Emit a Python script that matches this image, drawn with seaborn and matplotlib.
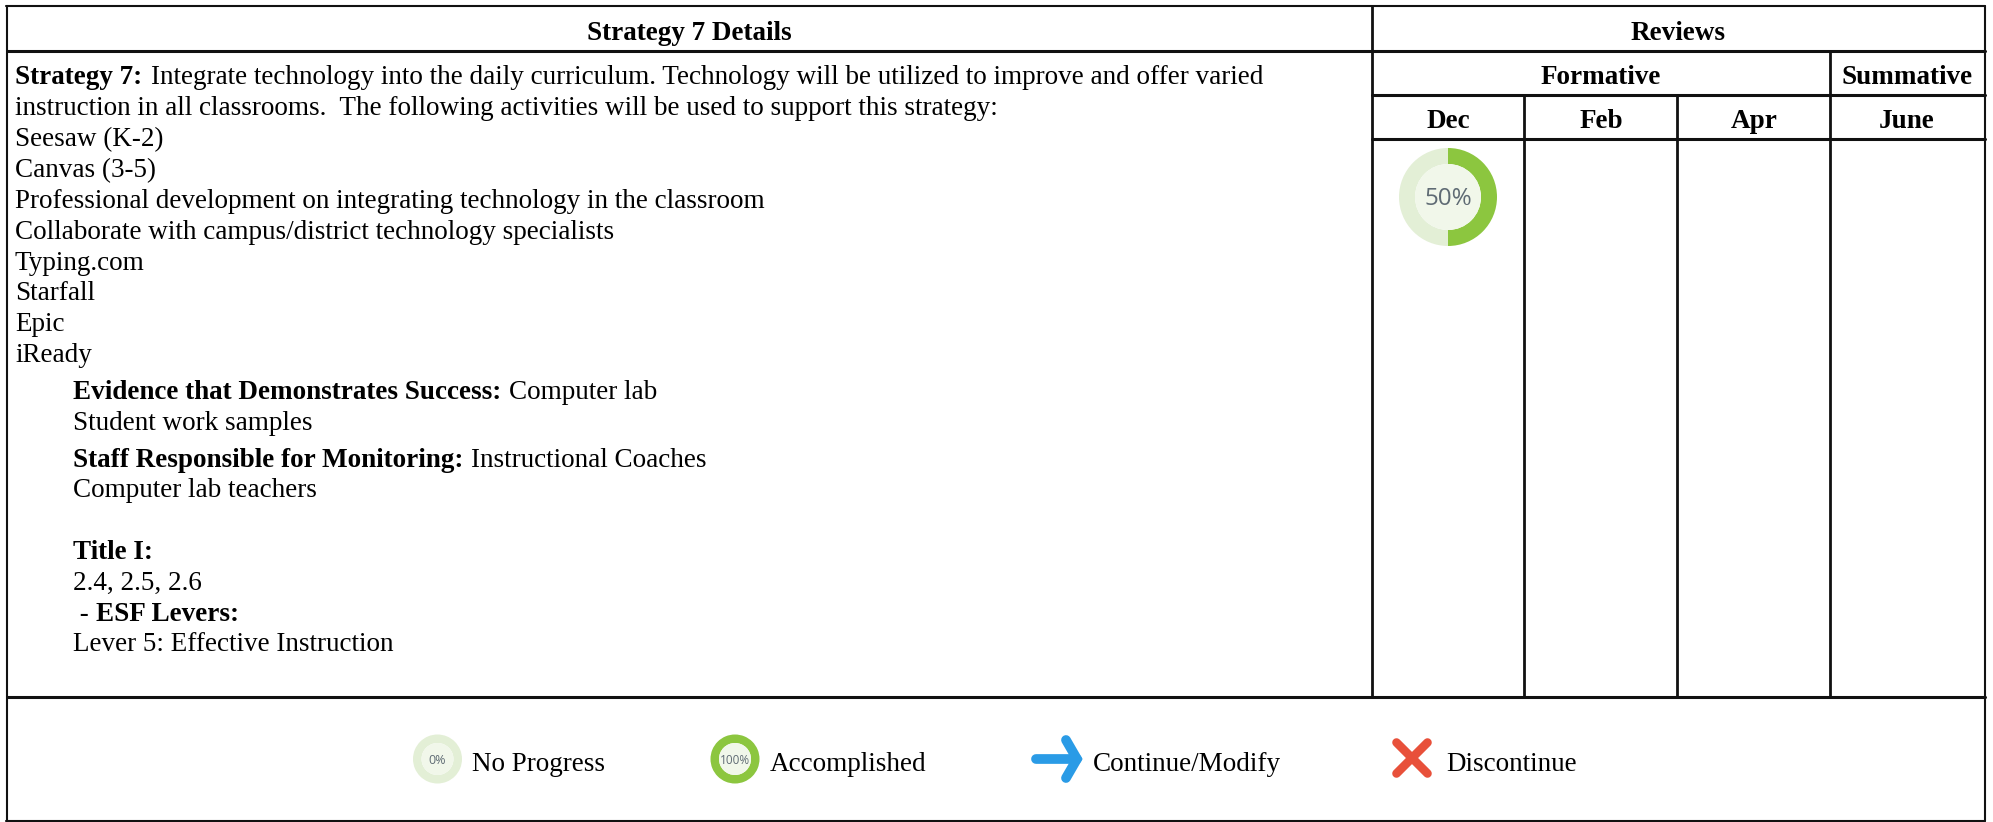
import matplotlib
matplotlib.use('Agg')
import matplotlib.pyplot as plt
import pandas as pd
import seaborn as sns

# Textos de la tabla
header_main = 'Strategy 7 Details'
header_reviews = 'Reviews'
header_groups = ['Formative', 'Summative']
months = ['Dec', 'Feb', 'Apr', 'June']
activity_lines = [
    'instruction in all classrooms.  The following activities will be used to support this strategy:',
    'Seesaw (K-2)',
    'Canvas (3-5)',
    'Professional development on integrating technology in the classroom',
    'Collaborate with campus/district technology specialists',
    'Typing.com',
    'Starfall',
    'Epic',
    'iReady',
]
legend_labels = ['No Progress', 'Accomplished', 'Continue/Modify', 'Discontinue']

# Progreso de los anillos
dec_progress = 50
no_progress = 0
accomplished = 100

GREEN = '#8cc63f'
PALE = '#e3efd6'
CENTER = '#f1f7ea'
BLUE = '#2a9be6'
RED = '#e8503a'
FS = 19.5

sns.set_theme(style='white')
plt.rcParams['font.family'] = ['Liberation Serif', 'DejaVu Serif']

fig, ax = plt.subplots(figsize=(19.93, 8.22), dpi=100)
ax.set_position([0, 0, 1, 1])


def ring(value, cx, cy, r, hole, label, size):
    # anillo de progreso con ax.pie, el verde avanza en sentido horario
    ax.pie([value, 100 - value], colors=[GREEN, PALE], center=(cx, cy), radius=r,
           startangle=90, counterclock=False, frame=True,
           wedgeprops={'width': r - hole, 'linewidth': 0})
    ax.add_patch(plt.Circle((cx, cy), hole, color=CENTER, lw=0, zorder=3))
    ax.text(cx, cy + r * 0.05, label, ha='center', va='center', fontsize=size, color='#5f6b74',
            family='Open Sans', zorder=4)


ring(dec_progress, 1448, 197, 49, 33, f'{dec_progress}%', 17.5)
ring(no_progress, 437.5, 759, 24.5, 16, f'{no_progress}%', 9)
ring(accomplished, 735, 759, 24.5, 16, f'{accomplished}%', 8.5)

# Lineas de la tabla
rules = pd.DataFrame([
    ('top', 6, 6, 1985, 6, 1.5),
    ('left', 7, 6, 7, 821, 1.5),
    ('right', 1985, 6, 1985, 821, 1.5),
    ('bottom', 6, 821, 1985, 821, 1.5),
    ('head', 7, 51, 1985, 51, 2.2),
    ('group', 1372, 95, 1985, 95, 2.2),
    ('month', 1372, 139, 1985, 139, 2.2),
    ('foot', 7, 697, 1985, 697, 2.2),
    ('main', 1372, 6, 1372, 697, 2.0),
    ('v1', 1524, 95, 1524, 697, 2.0),
    ('v2', 1677, 95, 1677, 697, 2.0),
    ('v3', 1830, 51, 1830, 697, 2.0),
], columns=['rule', 'x0', 'y0', 'x1', 'y1', 'lw'])
for lw, group in rules.groupby('lw'):
    long_df = pd.concat([
        group[['rule', 'x0', 'y0']].set_axis(['rule', 'x', 'y'], axis=1),
        group[['rule', 'x1', 'y1']].set_axis(['rule', 'x', 'y'], axis=1),
    ])
    sns.lineplot(data=long_df, x='x', y='y', units='rule', estimator=None, sort=False,
                 color='#111111', linewidth=lw, legend=False, ax=ax)

# Encabezados
for x, y, label in [(689.5, 40, header_main), (1678, 40, header_reviews),
                    (1601, 84, header_groups[0]), (1907, 84, header_groups[1]),
                    (1448, 128, months[0]), (1601, 128, months[1]),
                    (1754, 128, months[2]), (1907, 128, months[3])]:
    ax.text(x, y, label, ha='center', va='baseline', fontsize=FS, fontweight='bold', color='black')


def txt(x, y, s, bold=False):
    ax.text(x, y, s, ha='left', va='baseline', fontsize=FS, color='black',
            fontweight='bold' if bold else 'normal')


# Detalle de la estrategia
txt(15, 84, 'Strategy 7:', True)
txt(151, 84, 'Integrate technology into the daily curriculum. Technology will be utilized to improve and offer varied')
for i, line in enumerate(activity_lines):
    txt(15, 115 + i * 30.9, line)

txt(73, 399, 'Evidence that Demonstrates Success:', True)
txt(509, 399, 'Computer lab')
txt(73, 430, 'Student work samples')
txt(73, 467, 'Staff Responsible for Monitoring:', True)
txt(471, 467, 'Instructional Coaches')
txt(73, 497, 'Computer lab teachers')
txt(73, 559, 'Title I:', True)
txt(73, 590, '2.4, 2.5, 2.6')
txt(73, 621, ' - ', False)
txt(96, 621, 'ESF Levers:', True)
txt(73, 651, 'Lever 5: Effective Instruction')

# Leyenda
txt(472, 771, legend_labels[0])
txt(770, 771, legend_labels[1])
txt(1093, 771, legend_labels[2])
txt(1446, 771, legend_labels[3])

ax.plot((1036, 1077), (759, 759), color=BLUE, lw=7, solid_capstyle='round', zorder=3)
ax.plot((1066, 1077, 1066), (740, 759, 778), color=BLUE, lw=7, solid_capstyle='round',
        solid_joinstyle='miter', zorder=3)
for xs, ys in [((1396.5, 1427.5), (742.5, 773.5)), ((1396.5, 1427.5), (773.5, 742.5))]:
    ax.plot(xs, ys, color=RED, lw=6.2, solid_capstyle='round', zorder=3)

ax.set_xlim(0, 1993)
ax.set_ylim(822, 0)
ax.set_aspect('auto')
ax.set_xlabel('')
ax.set_ylabel('')
ax.set_xticks([])
ax.set_yticks([])
sns.despine(ax=ax, left=True, bottom=True)

fig.savefig('out.png', dpi=100)
